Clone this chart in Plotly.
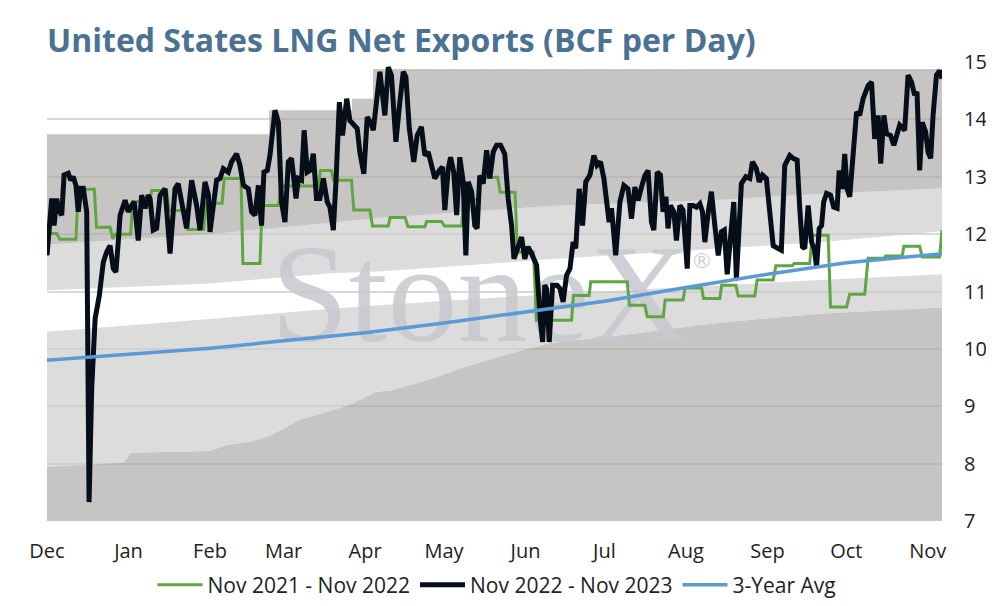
import pandas as pd
import plotly.graph_objects as go

START = pd.Timestamp("2022-12-01")

# range bands behind the lines (days since Dec 1)
band_day = [0, 62, 108, 126, 191, 256, 294, 340.4]
upper_edge = [11.82, 12.0, 12.2, 12.28, 12.49, 12.6, 12.7, 12.8]
white_top = [11.02, 11.14, 11.32, 11.35, 11.56, 11.75, 11.86, 12.05]
white_bottom = [10.30, 10.52, 10.70, 10.76, 10.95, 11.11, 11.2, 11.3]

min_day = [0, 29, 32, 62, 68, 77, 85, 96, 104, 115, 125, 131, 146, 157, 173, 191, 224, 249, 273, 297, 340.4]
min_val = [7.94, 8.02, 8.19, 8.22, 8.32, 8.38, 8.49, 8.76, 8.87, 9.02, 9.25, 9.28, 9.47, 9.66, 9.88, 10.1,
           10.27, 10.42, 10.53, 10.62, 10.72]

max_day = [0, 84.5, 116, 124, 340.4]
max_val = [13.74, 14.16, 14.36, 14.88, 14.88]

# 3-year average
avg_day = [0, 31, 62, 90, 121, 151, 182, 212, 243, 274, 304, 335, 340.4]
avg_val = [9.80, 9.91, 10.01, 10.14, 10.28, 10.45, 10.64, 10.83, 11.07, 11.3, 11.5, 11.64, 11.66]

# Nov 2021 - Nov 2022 (weekly steps)
prev_day = [0, 3.7, 4.9, 11.0, 11.9, 18.0, 18.8, 24.0, 25.0, 26.0, 31.8, 32.6, 39.0, 39.8, 45.5, 46.5,
            52.8, 53.6, 59.6, 60.5, 66.6, 67.4, 73.8, 74.5, 81.0, 81.8, 88.0, 89.0, 103.2, 104.0, 108.2,
            109.0, 115.8, 116.7, 122.8, 123.8, 129.8, 130.5, 136.2, 137.3, 143.7, 144.4, 150.0, 151.2,
            157.7, 158.5, 164.0, 164.8, 171.4, 172.4, 178.0, 178.9, 185.0, 186.2, 199.5, 200.2, 206.2,
            206.8, 220.7, 221.5, 227.4, 228.3, 234.4, 235.1, 241.9, 242.7, 249.0, 249.7, 255.9, 256.6,
            262.0, 262.9, 269.2, 270.1, 276.2, 277.2, 283.5, 284.2, 290.1, 291.0, 297.1, 298.0, 304.1,
            305.3, 311.0, 312.3, 318.3, 319.0, 325.3, 325.9, 331.9, 332.9, 339.5, 340.4]
prev_val = [12.01, 12.01, 11.91, 11.91, 12.78, 12.78, 12.12, 12.12, 11.92, 12.0, 12.0, 12.57, 12.57, 12.76,
            12.76, 12.41, 12.41, 12.08, 12.08, 12.54, 12.54, 12.97, 12.97, 11.49, 11.49, 12.5, 12.5, 12.84,
            12.84, 13.11, 13.11, 12.94, 12.94, 12.42, 12.42, 12.14, 12.14, 12.29, 12.29, 12.13, 12.13,
            12.22, 12.22, 12.14, 12.14, 12.6, 12.6, 12.99, 12.99, 12.73, 12.73, 11.69, 11.69, 10.5, 10.5,
            10.93, 10.93, 11.17, 11.17, 10.76, 10.76, 10.56, 10.56, 10.85, 10.85, 11.06, 11.06, 10.88,
            10.88, 11.11, 11.11, 10.92, 10.92, 11.2, 11.2, 11.45, 11.45, 11.49, 11.49, 11.98, 11.98, 10.73,
            10.73, 10.95, 10.95, 11.58, 11.58, 11.62, 11.62, 11.79, 11.79, 11.6, 11.6, 12.07]

# Nov 2022 - Nov 2023 (daily)
cur_day = [0.0, 1.8, 2.7, 3.7, 4.3, 5.6, 6.5, 8.1, 9.0, 10.0, 11.0, 11.9, 12.8, 13.8, 15.1, 16.0, 17.0,
           18.3, 19.9, 21.4, 22.7, 24.0, 25.2, 26.2, 27.1, 27.8, 29.7, 30.9, 32.2, 33.2, 34.7, 36.0, 37.3,
           38.5, 39.2, 40.4, 41.7, 43.0, 44.9, 46.8, 48.7, 49.9, 53.1, 55.0, 56.9, 58.2, 60.1, 61.4,
           62.0, 63.25, 64.5, 65.8, 67.05, 68.95, 70.2, 72.1, 73.4, 74.7, 76.6, 77.8, 79.1, 80.4, 81.6,
           82.5, 83.8, 84.8, 86.7, 88.0, 89.2, 90.5, 91.8, 93.0, 94.7, 95.6, 96.8, 97.8, 99.0, 100.0,
           101.3, 102.5, 103.8, 105.1, 106.6, 107.6, 108.9, 109.9, 111.2, 112.4, 114.0, 115.2, 116.7,
           118.0, 119.0, 120.5, 121.8, 123.1, 124.1, 125.1, 126.6, 128.5, 129.8,
           131.0, 132.7, 134.2, 135.5, 136.5, 137.8, 139.5, 140.8, 142.4, 143.7, 145.0, 146.2, 147.5,
           149.2, 150.4, 151.3, 152.6, 153.5, 154.7, 155.8, 157.0, 158.3, 159.3, 160.2, 161.5, 162.7,
           163.6, 164.6, 165.9, 167.2, 168.4, 169.7, 171.0, 172.5, 174.1, 175.4, 176.7, 177.6, 178.8,
           180.5, 181.7, 183.0, 184.3, 186.2, 187.7, 188.5, 189.3, 190.0, 191.0,
           192.3, 194.0, 195.1, 196.3, 197.6, 198.9, 200.1, 201.1, 202.4, 203.7, 204.9, 206.5, 208.0,
           209.2, 210.5, 211.8, 212.8, 213.8, 214.7, 216.3, 217.9, 219.4, 221.0, 222.3, 223.6, 224.8,
           226.1, 227.4, 228.6, 229.9, 230.8, 232.1, 233.3, 234.3, 235.4, 236.2, 237.1, 238.4, 239.4,
           240.7, 241.9, 243.5, 244.5, 245.8, 247.0, 248.3, 249.3, 250.2, 251.5, 252.7, 254.0, 255.3,
           256.5, 257.6, 258.7,
           259.7, 261.2, 262.2, 263.3, 264.1, 265.8, 267.3, 268.3, 269.8, 270.9, 272.1, 273.6, 274.9,
           276.2, 278.1, 279.3, 280.6, 282.5, 283.8, 285.3, 286.3, 287.3, 288.2, 289.5, 290.8, 291.8,
           292.7, 293.7, 294.6, 295.4, 296.5, 298.0, 299.2, 300.5, 301.3, 302.5, 303.4, 304.3, 305.3,
           306.6, 307.9, 309.1, 310.4, 312.3, 313.6, 314.8, 316.1, 317.1, 318.3, 319.3, 320.8, 322.1,
           323.3, 324.3, 326.2, 327.5, 328.8, 330.0, 330.9, 331.9, 332.9, 334.2, 335.1, 336.1, 337.0,
           338.3, 339.5, 340.4]
cur_val = [11.63, 12.62, 12.15, 12.62, 12.44, 12.33, 13.03, 13.06, 12.94, 13.0, 12.85, 12.39, 12.8, 12.8,
           12.39, 7.33, 9.31, 10.53, 10.93, 11.51, 11.69, 11.8, 11.4, 11.34, 11.86, 12.33, 12.59, 12.39,
           12.5, 12.56, 11.89, 12.68, 12.45, 12.68, 12.62, 12.07, 12.1, 12.68, 12.79, 11.66, 12.79, 12.88,
           12.1, 12.94, 12.5, 12.07, 12.91, 12.68,
           12.04, 12.56, 12.94, 12.97, 13.14, 13.08, 13.26, 13.4, 13.2, 12.85, 12.79, 12.39, 12.33, 12.85,
           12.15, 13.08, 13.11, 13.37, 14.16, 13.95, 12.56, 12.21, 13.26, 13.32, 12.62, 12.97, 12.94,
           13.81, 13.08, 13.11, 13.4, 12.62, 12.62, 12.97, 12.56, 12.47, 12.07, 12.91, 14.3, 13.72,
           14.36, 13.98, 13.9, 13.84, 13.42, 13.05, 14.04, 13.95, 13.81, 14.16, 14.83, 14.07, 14.91,
           14.77, 13.61, 14.3, 14.83, 14.74, 13.84, 13.26, 13.72, 13.87, 13.37, 13.43, 13.2, 12.97,
           13.11, 13.17, 12.42, 13.14, 13.34, 13.08, 12.33, 13.34, 12.91, 11.63, 12.91, 12.74, 12.15,
           12.1, 13.02, 12.88, 13.46, 12.97, 13.43, 13.55, 13.55, 13.4, 12.62, 12.15, 11.57, 11.75,
           11.95, 11.57, 11.78, 11.66, 11.46, 10.47, 10.12, 11.11, 11.05, 10.12,
           11.11, 11.11, 11.05, 10.82, 11.28, 11.4, 11.86, 11.75, 12.79, 12.15, 12.91, 13.03, 13.37,
           13.2, 13.26, 12.97, 12.5, 12.21, 12.45, 11.63, 12.56, 12.85, 12.79, 12.27, 12.82, 12.59,
           12.82, 13.02, 13.11, 12.21, 12.07, 13.08, 13.03, 12.39, 12.65, 12.1, 12.5, 12.39, 11.89,
           12.5, 12.42, 11.4, 12.5, 12.5, 12.47, 12.53, 12.39, 11.86, 12.39, 12.74, 12.15, 11.63,
           12.04, 12.07, 11.3,
           11.86, 12.56, 11.22, 12.21, 12.88, 13.0, 12.97, 13.26, 13.14, 12.91, 13.03, 12.97, 12.33,
           11.8, 11.75, 11.72, 13.2, 13.37, 13.32, 13.29, 12.45, 11.78, 11.75, 12.5, 11.86, 11.75,
           11.43, 12.1, 12.15, 12.56, 12.71, 12.68, 12.47, 12.45, 13.11, 12.79, 13.4, 12.79, 12.65,
           13.37, 14.13, 14.07, 14.36, 14.59, 14.65, 13.66, 14.07, 13.23, 14.07, 13.75, 13.72, 13.55,
           13.78, 13.9, 13.81, 14.77, 14.65, 14.42, 14.48, 13.11, 13.95, 13.78, 13.43, 13.32, 14.07,
           14.77, 14.85, 14.71]

y_ticks = [7, 8, 9, 10, 11, 12, 13, 14, 15]

DARK = "rgba(168,167,166,0.66)"
LIGHT = "rgba(203,203,203,0.68)"
MARK = "rgba(198,200,206,0.85)"
FONT = "Open Sans"


def to_dates(days):
    return START + pd.to_timedelta(days, unit="D")


fig = go.Figure()

# stacked range bands: bottom dark, light, white, light, top dark
bands = [
    (min_day, min_val, "tozeroy", DARK, "linear"),
    (band_day, white_bottom, "tonexty", LIGHT, "linear"),
    (band_day, white_top, "tonexty", "rgba(255,255,255,0)", "linear"),
    (band_day, upper_edge, "tonexty", LIGHT, "linear"),
    (max_day, max_val, "tonexty", DARK, "hv"),
]
for days, vals, fill, color, shape in bands:
    fig.add_trace(go.Scatter(x=to_dates(days), y=vals, mode="lines", fill=fill, fillcolor=color,
                             line=dict(width=0, shape=shape), showlegend=False, hoverinfo="skip"))

# watermark, kept under the data lines
fig.add_trace(go.Scatter(
    x=[to_dates([165])[0]], y=[10.74], mode="text", text=["StoneX"],
    textfont=dict(family="Liberation Serif", size=140, color=MARK),
    showlegend=False, hoverinfo="skip", cliponaxis=False))
fig.add_trace(go.Scatter(
    x=[to_dates([249])[0]], y=[11.5], mode="text", text=["®"],
    textfont=dict(family="DejaVu Sans", size=22, color=MARK),
    showlegend=False, hoverinfo="skip", cliponaxis=False))

fig.add_trace(go.Scatter(x=to_dates(prev_day), y=prev_val, mode="lines", name="Nov 2021 - Nov 2022",
                         line=dict(color="#5fa641", width=3)))
fig.add_trace(go.Scatter(x=to_dates(cur_day), y=cur_val, mode="lines", name="Nov 2022 - Nov 2023",
                         line=dict(color="#060e1a", width=5)))
fig.add_trace(go.Scatter(x=to_dates(avg_day), y=avg_val, mode="lines", name="3-Year Avg",
                         line=dict(color="#5b9bd5", width=3.5)))

# the page body adds an 8px offset on each side, so the figure is drawn 16px smaller
fig.update_layout(
    width=978, height=590, autosize=False,
    margin=dict(l=39, r=44, t=54, b=77, autoexpand=False),
    paper_bgcolor="white", plot_bgcolor="white",
    font=dict(family=FONT, size=20, color="#222222"),
    title=dict(text="<b>United States LNG Net Exports (BCF per Day)</b>",
               font=dict(family="Open Sans", size=32, color="#4b7292"),
               x=0, xref="paper", xanchor="left", y=0.944, yref="container", yanchor="middle"),
    legend=dict(orientation="h", x=0.5, xanchor="center", xref="container",
                y=0.022, yref="container", yanchor="middle",
                font=dict(size=21), traceorder="normal", itemwidth=45),
    showlegend=True,
)
fig.update_xaxes(range=[to_dates([0])[0], to_dates([340.4])[0]], dtick="M1", tickformat="%b",
                 tick0=START, showgrid=False, ticks="outside", ticklen=12, tickcolor="rgba(0,0,0,0)",
                 showline=False, zeroline=False)
fig.update_yaxes(range=[7, 15], tickvals=y_ticks, side="right", showgrid=True, gridcolor="#d9d9d9",
                 gridwidth=2, zeroline=False, showline=False, ticks="outside", ticklen=17,
                 tickcolor="rgba(0,0,0,0)")

fig.write_html("out.html")
